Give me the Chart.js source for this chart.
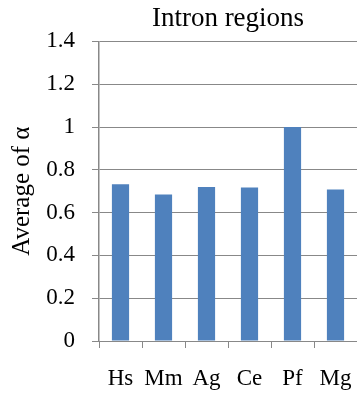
<!DOCTYPE html>
<html>
<head>
<meta charset="utf-8">
<script src="https://cdn.jsdelivr.net/npm/chart.js@4/dist/chart.umd.min.js"></script>
<style>
html,body{margin:0;padding:0;background:#fff;}
#wrap{width:357px;height:394px;}
</style>
</head>
<body>
<div id="wrap"><canvas id="c" width="357" height="394"></canvas></div>
<script>
const categories = ["Hs", "Mm", "Ag", "Ce", "Pf", "Mg"];
const averageAlpha = [0.733, 0.684, 0.720, 0.717, 1.0, 0.708];
const yTickLabels = ["0", "0.2", "0.4", "0.6", "0.8", "1", "1.2", "1.4"];
const chartTitle = "Intron regions";
const yAxisTitle = "Average of α";

const FONT = "'Liberation Serif', 'Times New Roman', serif";
const GRID = "#888888";

new Chart(document.getElementById('c'), {
  type: 'bar',
  data: {
    labels: categories,
    datasets: [{
      label: yAxisTitle,
      data: averageAlpha,
      backgroundColor: '#4F81BD',
      borderWidth: 0,
      categoryPercentage: 1.0,
      barPercentage: 0.4
    }]
  },
  options: {
    responsive: false,
    animation: false,
    devicePixelRatio: 1,
    layout: { padding: { left: 0, right: 0, top: 0, bottom: 0 } },
    plugins: {
      legend: { display: false },
      tooltip: { enabled: false },
      title: {
        display: true,
        text: chartTitle,
        fullSize: false,
        color: '#000',
        font: { family: FONT, size: 27, weight: 'normal' },
        padding: { top: 3, bottom: 6 }
      }
    },
    scales: {
      x: {
        offset: true,
        afterFit: (s) => { s.height = 53; s.paddingLeft = 0; s.paddingRight = 0; },
        grid: {
          offset: true,
          drawOnChartArea: false,
          drawTicks: true,
          tickLength: 7,
          color: GRID,
          lineWidth: 1
        },
        border: { display: true, color: GRID, width: 1 },
        ticks: {
          color: '#000',
          font: { family: FONT, size: 23 },
          padding: 17,
          maxRotation: 0,
          autoSkip: false
        }
      },
      y: {
        min: 0,
        max: 1.4,
        afterFit: (s) => { s.width = 99; s.paddingTop = 0; s.paddingBottom = 0; },
        grid: {
          color: GRID,
          lineWidth: 1,
          drawTicks: true,
          tickLength: 7
        },
        border: { display: true, color: GRID, width: 1.5 },
        ticks: {
          stepSize: 0.2,
          color: '#000',
          font: { family: FONT, size: 23 },
          padding: 17,
          callback: (v, i) => yTickLabels[i]
        },
        title: {
          display: true,
          text: yAxisTitle,
          color: '#000',
          font: { family: FONT, size: 25 },
          padding: { top: 7, bottom: 0 }
        }
      }
    }
  }
});
</script>
</body>
</html>
